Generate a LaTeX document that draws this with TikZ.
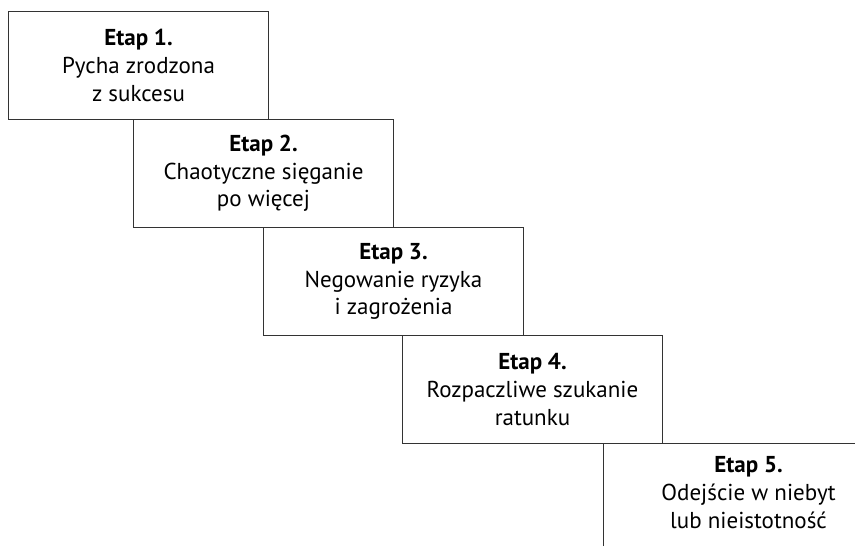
\documentclass[tikz,border=0pt]{standalone}
\usepackage{fontspec}
\setsansfont{PT Sans}
\usepackage{tikz}

\tikzset{etap/.style={draw=black!80, line width=0.5pt, anchor=north west, minimum width=130pt, minimum height=54pt, inner sep=0pt, align=center, font=\sffamily\fontsize{11.5}{13.8}\selectfont}}

\begin{document}
\begin{tikzpicture}[x=0.5pt, y=-0.5pt]
\useasboundingbox (0,0) rectangle (855,546);
\node[etap] (e1) at (8,11) {\textbf{Etap 1.}\\Pycha zrodzona\\z sukcesu};
\node[etap] (e2) at (133,119) {\textbf{Etap 2.}\\Chaotyczne sięganie\\po więcej};
\node[etap] (e3) at (263,227) {\textbf{Etap 3.}\\Negowanie ryzyka\\i zagrożenia};
\node[etap] (e4) at (402,335) {\textbf{Etap 4.}\\Rozpaczliwe szukanie\\ratunku};
\node[etap, draw=none, minimum width=145pt, minimum height=49pt] (e5) at (603,443) {\textbf{Etap 5.}\\Odejście w niebyt\\lub nieistotność};
\coordinate (e5end) at (855,443);
\coordinate (e5foot) at (603,546);
\draw[black!80, line width=0.5pt] (e5foot) -- (e5.north west) -- (e5end);
\end{tikzpicture}
\end{document}
